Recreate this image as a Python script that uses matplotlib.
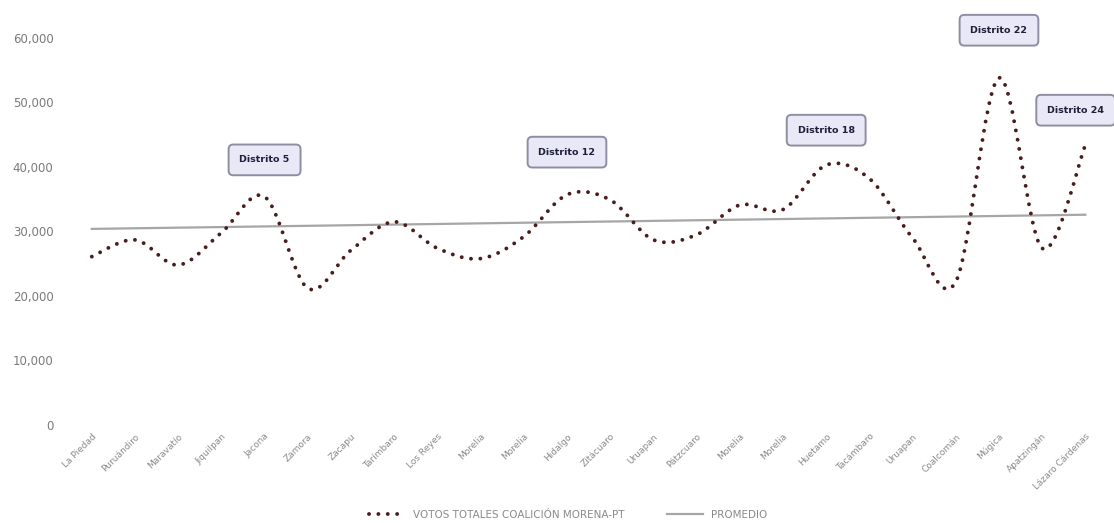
import matplotlib
matplotlib.use('Agg')
import matplotlib.pyplot as plt
import numpy as np
from matplotlib.path import Path
from matplotlib.patches import PathPatch
from matplotlib.lines import Line2D

# Distritos locales (cabeceras)
distritos = ["La Piedad", "Puruándiro", "Maravatío", "Jiquilpan", "Jacona",
             "Zamora", "Zacapu", "Tarímbaro", "Los Reyes", "Morelia",
             "Morelia", "Hidalgo", "Zitácuaro", "Uruapan", "Pátzcuaro",
             "Morelia", "Morelia", "Huetamo", "Tacámbaro", "Uruapan",
             "Coalcomán", "Múgica", "Apatzingán", "Lázaro Cárdenas"]

votos = [26100, 28700, 24800, 29800, 35400, 21200, 27100, 31500,
         27400, 25800, 29200, 35700, 34900, 28700, 29500, 34100,
         33400, 40300, 38200, 29000, 22200, 53800, 27400, 43400]

# promedio: valor al inicio y al final de la serie
promedio = [30400, 32600]

notas = ["Distrito 5", "Distrito 12", "Distrito 18", "Distrito 22", "Distrito 24"]
notas_idx = [4, 11, 17, 21, 23]
notas_y = [41100, 42300, 45700, 61200, 48800]

y_ticks = [0, 10000, 20000, 30000, 40000, 50000, 60000]


def smooth_path(xs, ys):
    """Bezier path through the points, like Excel's smoothed line."""
    pts = np.column_stack([xs, ys]).astype(float)
    n = len(pts)
    verts = [pts[0]]
    codes = [Path.MOVETO]
    for i in range(n - 1):
        p0 = pts[i - 1] if i > 0 else pts[i]
        p1 = pts[i]
        p2 = pts[i + 1]
        p3 = pts[i + 2] if i + 2 < n else pts[i + 1]
        c1 = p1 + (p2 - p0) / 6.0
        c2 = p2 - (p3 - p1) / 6.0
        verts += [c1, c2, p2]
        codes += [Path.CURVE4] * 3
    return Path(verts, codes)


fig = plt.figure(figsize=(11.14, 5.23), dpi=100)
ax = fig.add_axes([0.063, 0.1874, 0.9307, 0.74])

x = np.arange(len(distritos))
serie_color = '#4a1c1c'
prom_color = '#a6a6a6'

ax.plot([x[0], x[-1]], promedio, color=prom_color, linewidth=1.6, zorder=2)

patch = PathPatch(smooth_path(x, votos), fill=False, edgecolor=serie_color,
                  linewidth=2.8, linestyle=(0, (0.01, 2.4)),
                  capstyle='round', zorder=3)
ax.add_patch(patch)

for txt, i, yv in zip(notas, notas_idx, notas_y):
    dx = -7 if i == x[-1] else 0
    ax.annotate(txt, xy=(x[i], yv), xytext=(dx, 0), textcoords='offset points',
                ha='center', va='center', fontsize=6.8,
                fontweight='bold', color='#1f1f3a', zorder=5, annotation_clip=False,
                bbox=dict(boxstyle='round,pad=1.15,rounding_size=0.5',
                          facecolor='#e8e8f6', edgecolor='#8e8ea2', linewidth=1.4))

ax.set_xlim(-0.5, len(distritos) - 0.5)
ax.set_ylim(0, 60000)
ax.set_yticks(y_ticks)
ax.set_yticklabels([f"{v:,}" for v in y_ticks], fontsize=8.5, color='#7a7a7a')
ax.set_xticks(x)
ax.set_xticklabels(distritos, rotation=45, ha='right', rotation_mode='anchor',
                   fontsize=6.5, color='#8a8a8a')
ax.tick_params(axis='y', length=0, pad=12)
ax.tick_params(axis='x', length=0, pad=5)
for s in ax.spines.values():
    s.set_visible(False)

handles = [
    Line2D([], [], color=serie_color, linewidth=2.8, linestyle=(0, (0.01, 2.4)),
           dash_capstyle='round'),
    Line2D([], [], color=prom_color, linewidth=1.6),
]
fig.legend(handles, ['VOTOS TOTALES COALICIÓN MORENA-PT', 'PROMEDIO'],
           loc='lower center', bbox_to_anchor=(0.51, -0.012), ncol=2,
           frameon=False, fontsize=7.5, labelcolor='#8a8a8a',
           handlelength=3.5, columnspacing=4)

plt.savefig('out.png', dpi=100)
plt.close()
